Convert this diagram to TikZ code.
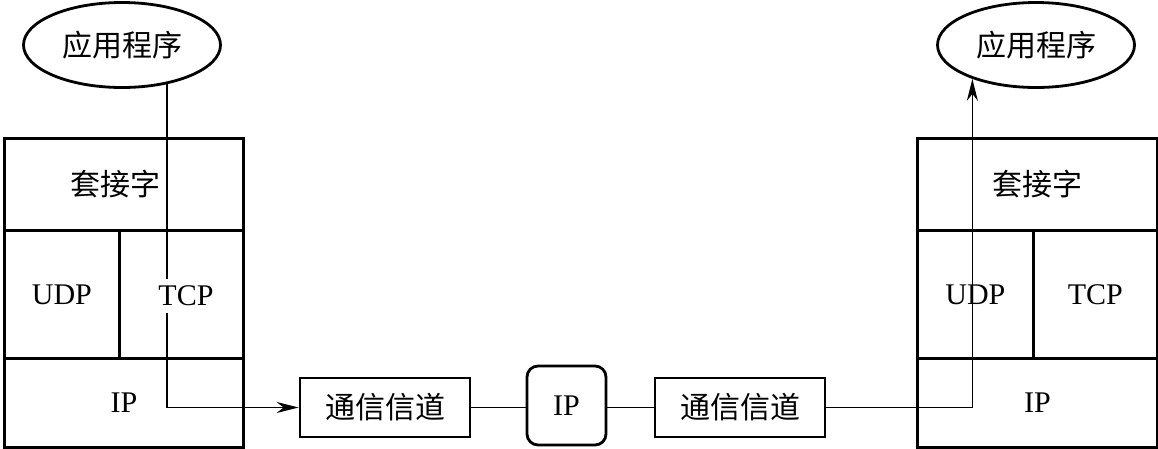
\documentclass[tikz,border=0pt]{standalone}
\usepackage{fontspec}
\setmainfont{Liberation Serif}
\newfontfamily\cjk{Noto Sans CJK SC}
\usetikzlibrary{shapes.geometric,arrows.meta}
\tikzset{
  txt/.style={font=\fontsize{30}{36}\selectfont},
  cell/.style={draw, line width=2.8pt, inner sep=0pt, anchor=north west, txt},
  appl/.style={draw, ellipse, line width=2.8pt, inner sep=0pt, minimum width=197pt, minimum height=85pt, txt},
  chan/.style={draw, line width=2.8pt, inner sep=0pt, minimum width=170pt, minimum height=59pt, txt},
  router/.style={draw, line width=2.8pt, rounded corners=11pt, inner sep=0pt, minimum width=79pt, minimum height=79pt, txt},
  conn/.style={line width=1.6pt},
  arr/.style={-{Stealth[length=22pt,width=11pt,inset=7pt]}}
}
\begin{document}
\begin{tikzpicture}[x=1pt,y=-1pt]
\useasboundingbox (0,0) rectangle (1158,448);
% left stack
\node[cell, minimum width=239pt, minimum height=92pt] (sockL) at (3,137) {\hspace*{-16pt}\cjk 套接字};
\node[cell, minimum width=115pt, minimum height=128pt] (udpL) at (3,229) {UDP};
\node[cell, minimum width=124pt, minimum height=128pt] (tcpL) at (118,229) {};
\node[cell, minimum width=239pt, minimum height=89pt] (ipL) at (3,357) {IP};
% right stack
\node[cell, minimum width=240pt, minimum height=92pt] (sockR) at (916,137) {\cjk 套接字};
\node[cell, minimum width=116pt, minimum height=128pt] (udpR) at (916,229) {UDP};
\node[cell, minimum width=124pt, minimum height=128pt] (tcpR) at (1032,229) {TCP};
\node[cell, minimum width=240pt, minimum height=89pt] (ipR) at (916,357) {IP};
% applications
\node[appl] (appL) at (122,45) {\cjk 应用程序};
\node[appl] (appR) at (1036,45) {\cjk 应用程序};
% channel
\node[chan] (chan1) at (385,407.5) {\cjk 通信信道};
\node[router] (ipM) at (566.5,405.5) {IP};
\node[chan] (chan2) at (740,407.5) {\cjk 通信信道};
% connectors
\draw[conn,arr] (appL.-41) |- (chan1.west);
\node[txt, fill=white, inner xsep=1pt, inner ysep=7pt] (tcpLt) at (186,296) {TCP};
\draw[conn] (chan1.east) -- (chan1.east -| ipM.west);
\draw[conn] (chan2.west -| ipM.east) -- (chan2.west);
\draw[conn,arr] (chan2.east) -| (appR.-152);
\end{tikzpicture}
\end{document}
